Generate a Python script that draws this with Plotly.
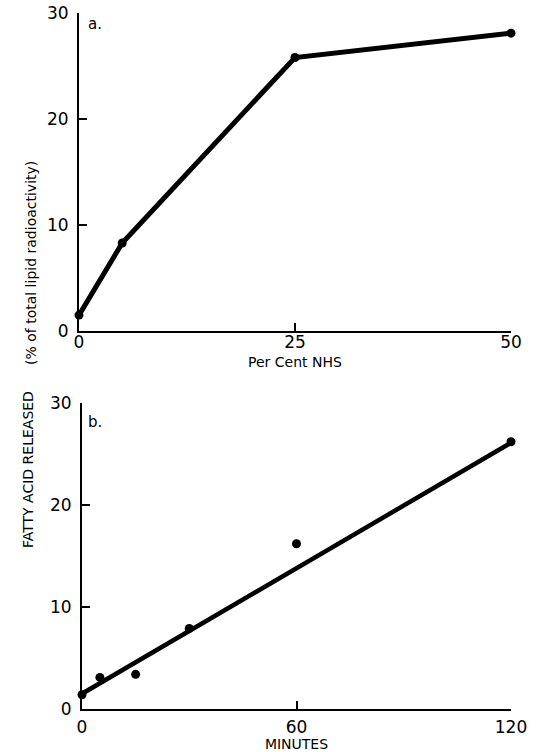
import plotly.graph_objects as go

# Panel a: per cent NHS vs fatty acid released
nhs_pct = [0, 5, 25, 50]
released_a = [1.5, 8.3, 25.8, 28.1]

# Panel b: minutes vs fatty acid released
minutes = [0, 5, 15, 30, 60, 120]
released_b = [1.4, 3.1, 3.4, 7.9, 16.2, 26.2]

# Panel b fitted line (end points)
fit_x = [0, 120]
fit_y = [1.5, 26.1]

xticks_a = [0, 25, 50]
xticks_b = [0, 60, 120]
yticks = [0, 10, 20, 30]

W, H = 537, 752
FONT = "DejaVu Sans"

fig = go.Figure()
fig.add_trace(go.Scatter(x=nhs_pct, y=released_a, mode="lines+markers",
                         line=dict(color="black", width=5),
                         marker=dict(color="black", size=9),
                         cliponaxis=False, xaxis="x", yaxis="y", showlegend=False))
fig.add_trace(go.Scatter(x=fit_x, y=fit_y, mode="lines",
                         line=dict(color="black", width=4.5),
                         cliponaxis=False, xaxis="x2", yaxis="y2", showlegend=False))
fig.add_trace(go.Scatter(x=minutes, y=released_b, mode="markers",
                         marker=dict(color="black", size=9),
                         cliponaxis=False, xaxis="x2", yaxis="y2", showlegend=False))

def px_x(p):
    return p / W

def px_y(p):
    return 1 - p / H

axis_common = dict(showgrid=False, zeroline=False, showline=True, linecolor="black",
                   linewidth=2, ticks="inside", ticklen=8, tickwidth=2, tickcolor="black",
                   tickfont=dict(family=FONT, size=17, color="black"), automargin=False)

fig.update_layout(
    width=W, height=H,
    margin=dict(l=0, r=0, t=0, b=0),
    paper_bgcolor="white", plot_bgcolor="white",
    font=dict(family=FONT, color="black"),
    xaxis=dict(domain=[px_x(79), px_x(511)], range=[0, 50], tickvals=xticks_a,
               anchor="y", ticklabelstandoff=-5,
               title=dict(text="Per Cent NHS", font=dict(family=FONT, size=14), standoff=6),
               **axis_common),
    yaxis=dict(domain=[px_y(331), px_y(13)], range=[0, 30], tickvals=yticks,
               anchor="x", ticklabelstandoff=5, **axis_common),
    xaxis2=dict(domain=[px_x(82), px_x(511)], range=[0, 120], tickvals=xticks_b,
                anchor="y2", ticklabelstandoff=2,
                title=dict(text="MINUTES", font=dict(family=FONT, size=14), standoff=7),
                **axis_common),
    yaxis2=dict(domain=[px_y(709), px_y(403)], range=[0, 30], tickvals=yticks,
                anchor="x2", ticklabelstandoff=5, **axis_common),
)

ann_font = dict(family=FONT, size=14, color="black")
fig.add_annotation(text="(% of total lipid radioactivity)", xref="paper", yref="paper",
                   x=px_x(31), y=px_y(263), xanchor="center", yanchor="middle",
                   textangle=-90, showarrow=False, font=ann_font)
fig.add_annotation(text="FATTY ACID RELEASED", xref="paper", yref="paper",
                   x=px_x(28), y=px_y(470), xanchor="center", yanchor="middle",
                   textangle=-90, showarrow=False, font=ann_font)
fig.add_annotation(text="a.", xref="paper", yref="paper",
                   x=px_x(95), y=px_y(24), xanchor="center", yanchor="middle",
                   showarrow=False, font=dict(family=FONT, size=15, color="black"))
fig.add_annotation(text="b.", xref="paper", yref="paper",
                   x=px_x(95), y=px_y(422), xanchor="center", yanchor="middle",
                   showarrow=False, font=dict(family=FONT, size=15, color="black"))

fig.write_html("out.html", config={"displayModeBar": False},
               post_script="document.body.style.margin='0';document.body.style.overflow='hidden';")
